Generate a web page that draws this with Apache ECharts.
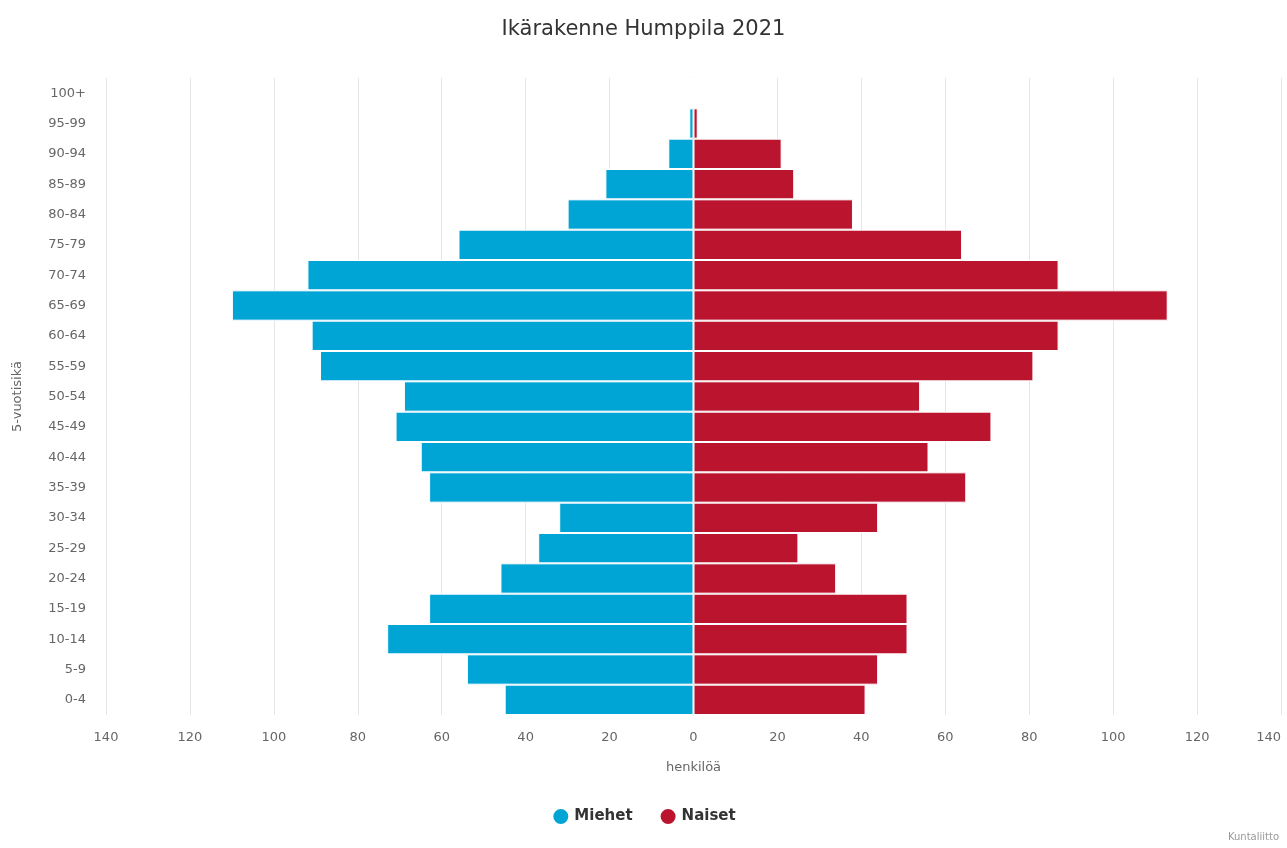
<!DOCTYPE html>
<html><head><meta charset="utf-8">
<script src="https://cdn.jsdelivr.net/npm/echarts@6/dist/echarts.min.js"></script>
<style>html,body{margin:0;padding:0;background:#fff}#c{width:1287px;height:848px}</style>
</head><body><div id="c"></div>
<script>
const categories = ['0-4','5-9','10-14','15-19','20-24','25-29','30-34','35-39','40-44','45-49','50-54','55-59','60-64','65-69','70-74','75-79','80-84','85-89','90-94','95-99','100+'];
const miehet = [45,54,73,63,46,37,32,63,65,71,69,89,91,110,92,56,30,21,6,1,0];
const naiset = [41,44,51,51,34,25,44,65,56,71,54,81,87,113,87,64,38,24,21,1,0];
const FONT = '"DejaVu Sans", Verdana, sans-serif';
const chart = echarts.init(document.getElementById('c'));
chart.setOption({
  animation: false,
  title: { text: 'Ikärakenne Humppila 2021', left: 'center', top: 14,
    textStyle: { fontFamily: FONT, fontSize: 21, fontWeight: 'normal', color: '#333' } },
  legend: { bottom: 17, left: 'center', icon: 'circle', itemWidth: 17, itemHeight: 17, itemGap: 26,
    textStyle: { fontFamily: FONT, fontSize: 15, fontWeight: 'bold', color: '#333' },
    data: ['Miehet','Naiset'] },
  grid: { left: 106, right: 6, top: 78, bottom: 133, containLabel: false, outerBoundsMode: 'none' },
  xAxis: { type: 'value', min: -140, max: 140, interval: 20,
    name: 'henkilöä', nameLocation: 'middle', nameGap: 46,
    nameTextStyle: { fontFamily: FONT, fontSize: 13, color: '#666' },
    axisLine: { show: false }, axisTick: { show: false },
    axisLabel: { fontFamily: FONT, fontSize: 13, color: '#666', margin: 16, alignMaxLabel: 'right',
      formatter: v => Math.abs(v) },
    splitLine: { show: true, lineStyle: { color: '#e6e6e6', width: 1 } } },
  yAxis: { type: 'category', data: categories,
    name: '5-vuotisikä', nameLocation: 'middle', nameGap: 82, nameRotate: 90,
    nameTextStyle: { fontFamily: FONT, fontSize: 13, color: '#666' },
    axisLine: { show: true, lineStyle: { color: '#ccd6eb' } }, axisTick: { show: false },
    axisLabel: { fontFamily: FONT, fontSize: 13, color: '#666', margin: 20 },
    splitLine: { show: false } },
  series: [
    { name: 'Miehet', type: 'bar', stack: 'p', barCategoryGap: '0%',
      itemStyle: { color: '#00a5d6', borderColor: '#fff', borderWidth: 1 },
      data: miehet.map(v => -v) },
    { name: 'Naiset', type: 'bar', stack: 'p', barCategoryGap: '0%',
      itemStyle: { color: '#ba142e', borderColor: '#fff', borderWidth: 1 },
      data: naiset }
  ],
  graphic: [{ type: 'text', right: 8, bottom: 6,
    style: { text: 'Kuntaliitto', fontFamily: FONT, fontSize: 10, fill: '#999' } }]
});
</script></body></html>
